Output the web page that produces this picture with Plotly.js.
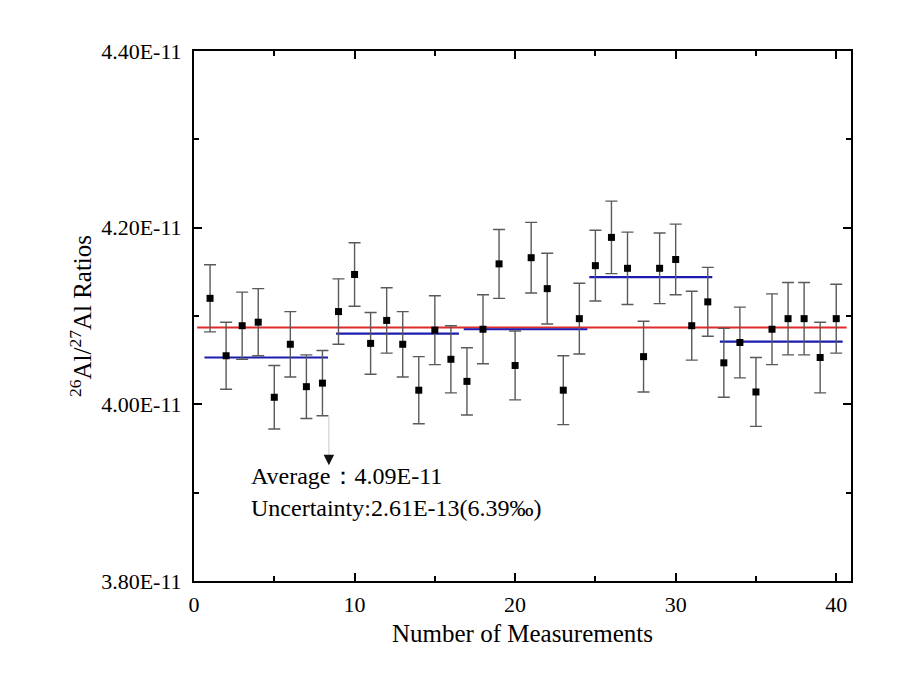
<!DOCTYPE html>
<html>
<head>
<meta charset="utf-8">
<script src="https://cdn.plot.ly/plotly-3.0.1.min.js"></script>
<style>
  html, body { margin: 0; padding: 0; background: #fff; }
  #chart { width: 900px; height: 683px; }
</style>
</head>
<body>
<div id="chart"></div>
<script>
// measurement number, 26Al/27Al ratio and its 1-sigma uncertainty
const measurement = [1, 2, 3, 4, 5, 6, 7, 8, 9, 10, 11, 12, 13, 14, 15, 16, 17, 18, 19, 20,
  21, 22, 23, 24, 25, 26, 27, 28, 29, 30, 31, 32, 33, 34, 35, 36, 37, 38, 39, 40];
const ratio = [4.120e-11, 4.055e-11, 4.089e-11, 4.093e-11, 4.008e-11, 4.068e-11, 4.020e-11, 4.024e-11,
  4.105e-11, 4.147e-11, 4.069e-11, 4.095e-11, 4.068e-11, 4.016e-11, 4.084e-11, 4.051e-11,
  4.026e-11, 4.085e-11, 4.159e-11, 4.044e-11, 4.166e-11, 4.131e-11, 4.016e-11, 4.097e-11,
  4.157e-11, 4.189e-11, 4.154e-11, 4.054e-11, 4.154e-11, 4.164e-11, 4.089e-11, 4.116e-11,
  4.047e-11, 4.070e-11, 4.014e-11, 4.085e-11, 4.097e-11, 4.097e-11, 4.053e-11, 4.097e-11];
const ratioErr = [0.038e-11, 0.038e-11, 0.038e-11, 0.038e-11, 0.036e-11, 0.037e-11, 0.036e-11, 0.037e-11,
  0.037e-11, 0.036e-11, 0.035e-11, 0.037e-11, 0.037e-11, 0.038e-11, 0.039e-11, 0.038e-11,
  0.038e-11, 0.039e-11, 0.039e-11, 0.039e-11, 0.040e-11, 0.040e-11, 0.039e-11, 0.040e-11,
  0.040e-11, 0.041e-11, 0.041e-11, 0.040e-11, 0.040e-11, 0.040e-11, 0.039e-11, 0.039e-11,
  0.039e-11, 0.040e-11, 0.039e-11, 0.040e-11, 0.041e-11, 0.041e-11, 0.040e-11, 0.039e-11];

// group averages (blue) : start, end, value
const groupStart = [0.65, 8.85, 16.8, 24.62, 32.75];
const groupEnd = [8.35, 16.5, 24.5, 32.28, 40.4];
const groupMean = [4.053e-11, 4.080e-11, 4.085e-11, 4.144e-11, 4.071e-11];

// overall average (red)
const overallRange = [0.2, 40.65];
const overallMean = 4.087e-11;

const yTickVals = [3.8e-11, 4.0e-11, 4.2e-11, 4.4e-11];
const yTickText = ["3.80E-11", "4.00E-11", "4.20E-11", "4.40E-11"];

const averageText = "Average：4.09E-11";
const uncertaintyText = "Uncertainty:2.61E-13(6.39‰)";

const FONT = "Liberation Serif, Times New Roman, serif";

const traces = [];

// overall mean line
traces.push({
  x: overallRange,
  y: [overallMean, overallMean],
  mode: "lines",
  line: { color: "#e02a2a", width: 2.2 },
  hoverinfo: "skip",
  showlegend: false,
});

// group mean lines
groupMean.forEach((m, i) => {
  traces.push({
    x: [groupStart[i], groupEnd[i]],
    y: [m, m],
    mode: "lines",
    line: { color: "#1c1cb0", width: 2.2 },
    hoverinfo: "skip",
    showlegend: false,
  });
});

// measurements with error bars
traces.push({
  x: measurement,
  y: ratio,
  mode: "markers",
  type: "scatter",
  marker: { symbol: "square", size: 7, color: "#000" },
  error_y: { type: "data", array: ratioErr, visible: true, color: "#5a5a5a", thickness: 1.4, width: 6 },
  showlegend: false,
});

const axisCommon = {
  showline: true,
  linecolor: "#000",
  linewidth: 2,
  mirror: "allticks",
  ticks: "inside",
  ticklen: 8,
  tickwidth: 2,
  tickcolor: "#000",
  showgrid: false,
  zeroline: false,
  tickfont: { family: FONT, size: 22, color: "#000" },
};

const layout = {
  width: 900,
  height: 683,
  margin: { l: 194, r: 49, t: 51, b: 102 },
  paper_bgcolor: "#fff",
  plot_bgcolor: "#fff",
  font: { family: FONT, color: "#000" },
  xaxis: Object.assign({}, axisCommon, {
    range: [0, 40.92],
    tick0: 0,
    dtick: 10,
    ticklabelstandoff: 3,
    minor: { dtick: 5, ticks: "inside", ticklen: 5, tickwidth: 2, tickcolor: "#000" },
    title: { text: "Number of Measurements", font: { family: FONT, size: 25, color: "#000" }, standoff: 8 },
  }),
  yaxis: Object.assign({}, axisCommon, {
    range: [3.8e-11, 4.4e-11],
    tickmode: "array",
    tickvals: yTickVals,
    ticktext: yTickText,
    ticklabelstandoff: 6,
    minor: { dtick: 0.1e-11, tick0: 3.8e-11, ticks: "inside", ticklen: 5, tickwidth: 2, tickcolor: "#000" },
    title: { text: "<sup>26</sup>Al/<sup>27</sup>Al Ratios", font: { family: FONT, size: 25, color: "#000" }, standoff: 2 },
  }),
  shapes: [{
    type: "line", xref: "x", yref: "y",
    x0: 8.4, x1: 8.4, y0: 3.986e-11, y1: 3.94e-11,
    line: { color: "#c8c8c8", width: 1 },
  }],
  annotations: [
    {
      x: 8.4, y: 3.931e-11, xref: "x", yref: "y",
      ax: 8.4, ay: 3.945e-11, axref: "x", ayref: "y",
      showarrow: true, arrowhead: 2, arrowsize: 1.4, arrowwidth: 1.5, arrowcolor: "#111", text: " ",
    },
    {
      x: 3.45, y: 3.9185e-11, xref: "x", yref: "y", xanchor: "left", yanchor: "middle",
      text: averageText, showarrow: false,
      font: { family: FONT, size: 24, color: "#000" },
    },
    {
      x: 3.45, y: 3.8824e-11, xref: "x", yref: "y", xanchor: "left", yanchor: "middle",
      text: uncertaintyText, showarrow: false,
      font: { family: FONT, size: 24, color: "#000" },
    },
  ],
};

Plotly.newPlot("chart", traces, layout, { displayModeBar: false, staticPlot: true });
</script>
</body>
</html>
